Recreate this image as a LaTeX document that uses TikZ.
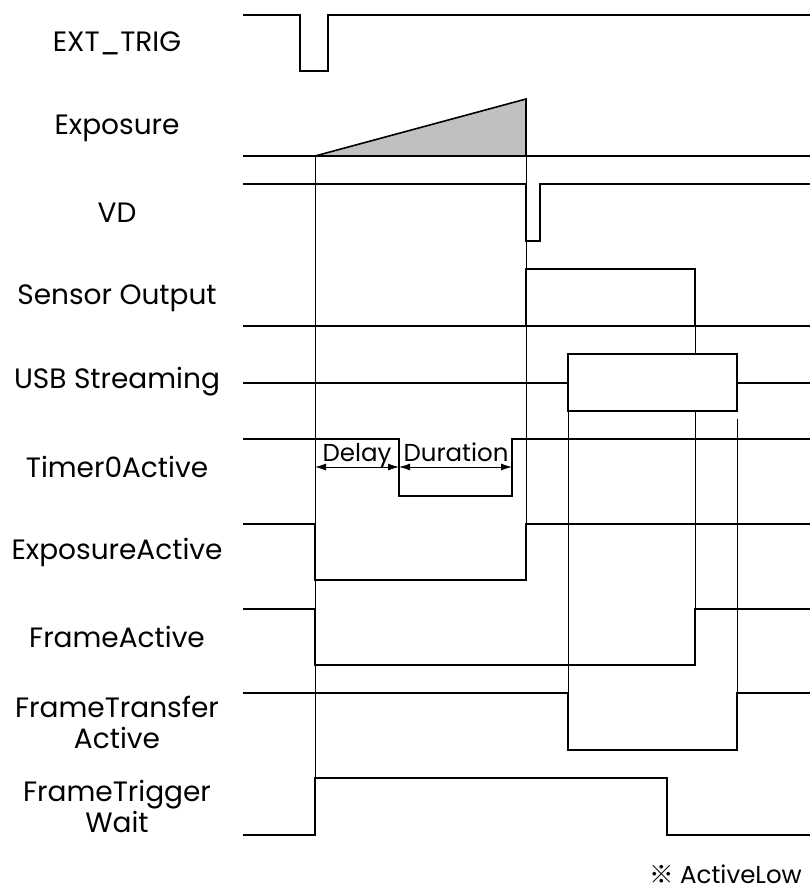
\documentclass[tikz,border=0pt]{standalone}
\usepackage{fontspec}
\setmainfont{Poppins}
\newfontfamily\jpfont{Noto Sans CJK JP}
\usepackage{tikz}
\usetikzlibrary{arrows.meta, positioning}
\definecolor{shade}{RGB}{192,192,192}

\begin{document}
\begin{tikzpicture}[x=1pt, y=-1pt,
  sig/.style={line width=1.6pt},
  guide/.style={line width=0.8pt},
  lbl/.style={font=\fontsize{28}{31}\selectfont, align=center, inner sep=0pt},
  tag/.style={font=\fontsize{24.5}{28}\selectfont, inner sep=0pt},
  span/.style={line width=0.8pt, {Latex[length=11pt,width=7pt]}-{Latex[length=11pt,width=7pt]}}]
  \useasboundingbox (0,0) rectangle (810,890);

  % Signal names
  \node[lbl] (exttrig) at (117,43) {EXT\_TRIG};
  \node[lbl] (expo) at (117,128) {Exposure};
  \node[lbl] (vd) at (117,213) {VD};
  \node[lbl] (sensor) at (117,298) {Sensor Output};
  \node[lbl] (usb) at (117,382) {USB Streaming};
  \node[lbl] (timer) at (117,467) {Timer0Active};
  \node[lbl] (expact) at (117,552) {ExposureActive};
  \node[lbl] (frmact) at (117,637) {FrameActive};
  \node[lbl] (xferact) at (117,722) {FrameTransfer\\Active};
  \node[lbl] (trigwait) at (117,806) {FrameTrigger\\Wait};

  % Guide lines
  \draw[guide] (315,156) -- (315,835);
  \draw[guide] (526,156) -- (526,580);
  \draw[guide] (695,326) -- (695,665);
  \draw[guide] (568,411) -- (568,693);
  \draw[guide] (737,419) -- (737,693);

  % Waveforms
  \draw[sig] (243,15) -- (300,15) -- (300,71) -- (328,71) -- (328,15) -- (810,15);
  \filldraw[sig, fill=shade] (315,156) -- (526,99) -- (526,156) -- cycle;
  \draw[sig] (243,156) -- (810,156);
  \draw[sig] (243,184) -- (526,184) -- (526,241) -- (540,241) -- (540,184) -- (810,184);
  \draw[sig] (243,326) -- (810,326);
  \draw[sig] (526,326) -- (526,269) -- (695,269) -- (695,326);
  \draw[sig] (243,383) -- (568,383);
  \filldraw[sig, fill=white] (568,354) rectangle (737,411);
  \draw[sig] (737,383) -- (810,383);
  \draw[sig] (243,439) -- (399,439) -- (399,496) -- (512,496) -- (512,439) -- (810,439);
  \draw[sig] (243,524) -- (315,524) -- (315,580) -- (526,580) -- (526,524) -- (810,524);
  \draw[sig] (243,609) -- (315,609) -- (315,665) -- (695,665) -- (695,609) -- (810,609);
  \draw[sig] (243,693) -- (568,693) -- (568,750) -- (737,750) -- (737,693) -- (810,693);
  \draw[sig] (243,835) -- (315,835) -- (315,778) -- (667,778) -- (667,835) -- (810,835);

  % Delay / Duration
  \coordinate (dstart) at (315,467);
  \coordinate (dmid) at (399,467);
  \coordinate (dend) at (512,467);
  \draw[span] (dstart) -- (dmid);
  \draw[span] (dmid) -- (dend);
  \node[tag, anchor=base] (delay) at (357,461) {Delay};
  \node[tag, anchor=base] (duration) at (456,461) {Duration};

  \node[tag, anchor=base east] (note) at (802,883) {{\jpfont ※} ActiveLow};
\end{tikzpicture}
\end{document}
